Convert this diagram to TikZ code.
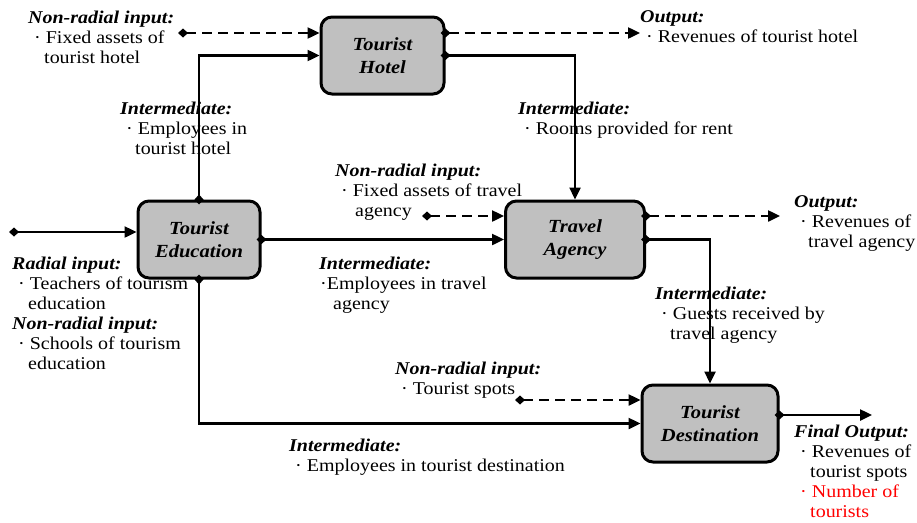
\documentclass[tikz,border=0pt]{standalone}
\usepackage{fontspec}
\setmainfont{Liberation Serif}[FakeStretch=1.11]
\usetikzlibrary{arrows.meta}
\definecolor{boxgray}{RGB}{192,192,192}
\definecolor{redtext}{RGB}{255,0,0}
\tikzset{
  proc/.style={draw=black, line width=3pt, fill=boxgray, rounded corners=11pt,
    minimum height=77pt, align=center, inner sep=0pt,
    font=\fontsize{18.5}{23}\selectfont\bfseries\itshape},
  lbl/.style={anchor=north west, inner sep=0pt, align=left,
    font=\fontsize{18}{20}\selectfont},
  solidarrow/.style={line width=2.4pt, shorten <=-5pt, {Diamond[length=10pt,width=9pt]}-{Triangle[length=12pt,width=11pt]}},
  dasharrow/.style={solidarrow, dash pattern=on 10pt off 6pt},
}
\newcommand{\hd}[1]{\textbf{\textit{#1}}}
\begin{document}
\begin{tikzpicture}[x=1pt,y=-1pt]
\useasboundingbox (0,0) rectangle (917,522);
% boxes
\node[proc, minimum width=123pt] (hotel) at (382.5,55.5) {Tourist\\Hotel};
\node[proc, minimum width=122pt] (edu) at (199,239.5) {Tourist\\Education};
\node[proc, minimum width=139pt] (agency) at (575,239.5) {Travel\\Agency};
\node[proc, minimum width=136pt] (dest) at (710,423.5) {Tourist\\Destination};
% free ends
\coordinate (hin) at (183,33);
\coordinate (hout) at (640,33);
\coordinate (ein) at (14,232);
\coordinate (ain) at (427,216);
\coordinate (aout) at (780,216);
\coordinate (din) at (520,400);
\coordinate (dout) at (872,415);
% labels
\node[lbl] (lA) at (28,11) {\hd{Non-radial input:}\\\hspace*{6pt}· Fixed assets of\\\hspace*{16pt}tourist hotel};
\node[lbl] (lB) at (120,102) {\hd{Intermediate:}\\\hspace*{6pt}· Employees in\\\hspace*{15pt}tourist hotel};
\node[lbl] (lC) at (640,10) {\hd{Output:}\\\hspace*{6pt}· Revenues of tourist hotel};
\node[lbl] (lD) at (518,102) {\hd{Intermediate:}\\\hspace*{6pt}· Rooms provided for rent};
\node[lbl] (lE) at (335,164) {\hd{Non-radial input:}\\\hspace*{6pt}· Fixed assets of travel\\\hspace*{20pt}agency};
\node[lbl] (lF) at (794,195) {\hd{Output:}\\\hspace*{6pt}· Revenues of\\\hspace*{14pt}travel agency};
\node[lbl] (lG) at (12,257) {\hd{Radial input:}\\\hspace*{6pt}· Teachers of tourism\\\hspace*{16pt}education\\\hd{Non-radial input:}\\\hspace*{6pt}· Schools of tourism\\\hspace*{16pt}education};
\node[lbl] (lH) at (319,257) {\hd{Intermediate:}\\\hspace*{1pt}·Employees in travel\\\hspace*{14pt}agency};
\node[lbl] (lI) at (655,287) {\hd{Intermediate:}\\\hspace*{6pt}· Guests received by\\\hspace*{15pt}travel agency};
\node[lbl] (lJ) at (395,362) {\hd{Non-radial input:}\\\hspace*{6pt}· Tourist spots};
\node[lbl] (lK) at (289,439) {\hd{Intermediate:}\\\hspace*{6pt}· Employees in tourist destination};
\node[lbl] (lL) at (794,425) {\hd{Final Output:}\\\hspace*{6pt}· Revenues of\\\hspace*{16pt}tourist spots\\\textcolor{redtext}{\hspace*{6pt}· Number of}\\\textcolor{redtext}{\hspace*{16pt}tourists}};
% connectors
\draw[dasharrow] (hin) -- (hin -| hotel.west);
\draw[solidarrow] (edu.north) |- (hotel.west);
\draw[dasharrow] (hotel.east |- hout) -- (hout);
\draw[solidarrow] (hotel.east) -| (agency.north);
\draw[solidarrow] (ein) -- (ein -| edu.west);
\draw[solidarrow] (edu.east) -- (agency.west);
\draw[dasharrow] (ain) -- (ain -| agency.west);
\draw[dasharrow] (agency.east |- aout) -- (aout);
\draw[solidarrow] (agency.east) -| (dest.north);
\draw[solidarrow] (edu.south) |- (dest.west);
\draw[dasharrow] (din) -- (din -| dest.west);
\draw[solidarrow] (dest.east |- dout) -- (dout);
\end{tikzpicture}
\end{document}
